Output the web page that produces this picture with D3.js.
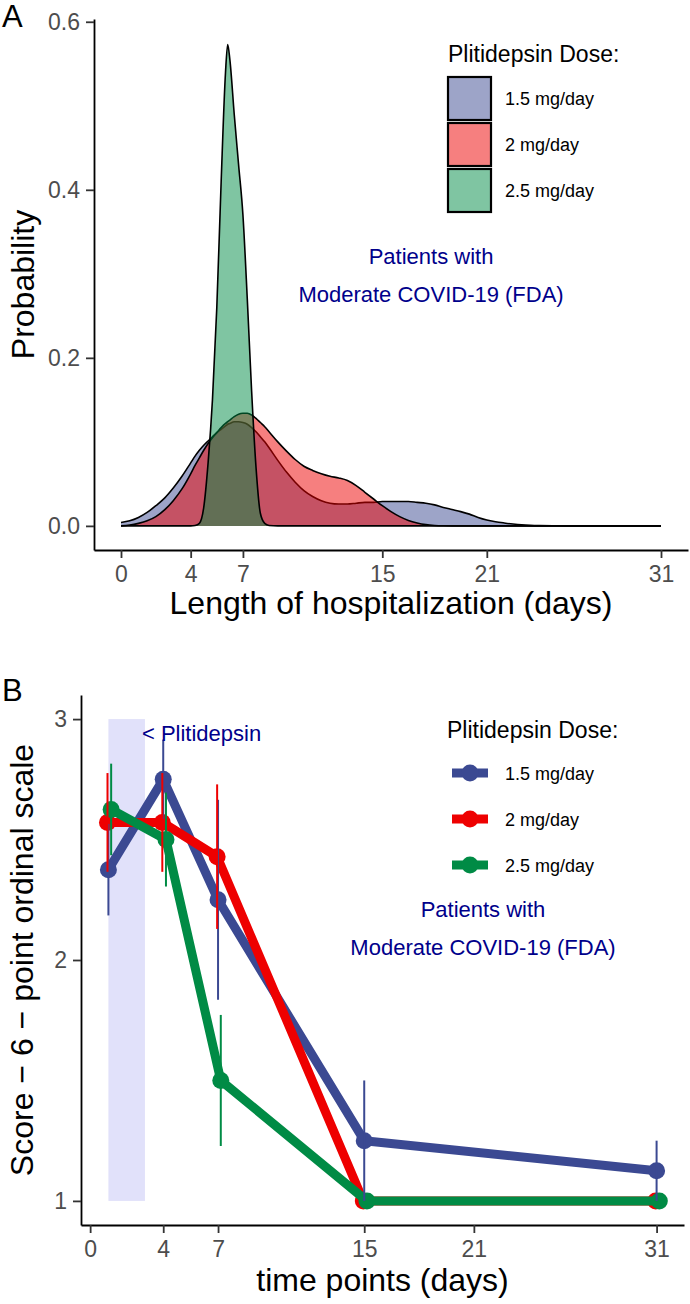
<!DOCTYPE html>
<html><head><meta charset="utf-8">
<script src="https://cdn.jsdelivr.net/npm/d3@7"></script>
<style>
body{margin:0;background:#fff}
svg{display:block}
text{font-family:"Liberation Sans",Arial,Helvetica,sans-serif}
</style>
</head><body>
<svg id="chart" width="690" height="1304"></svg>
<script>
// ---------- shared ----------
const doses = ["1.5 mg/day", "2 mg/day", "2.5 mg/day"];
const colors = ["#3B4992", "#EE0000", "#008B45"];
const xTickValues = [0, 4, 7, 15, 21, 31];
const yTicksA = [0, 0.2, 0.4, 0.6];
const yTicksB = [1, 2, 3];

// ---------- panel A: density of length of hospitalization ----------
const densX = [0,0.5,1,1.5,2,2.5,3,3.5,4,4.25,4.5,4.75,5,5.25,5.5,5.75,6,6.125,6.25,6.5,6.75,7,7.25,7.5,7.75,8,8.25,8.5,9,9.5,10,10.5,11,11.5,12,12.5,13,13.5,14,14.5,15,15.5,16,16.5,17,17.5,18,18.5,19,19.5,20,20.5,21,21.5,22,22.5,23,23.5,24,25,26,31];
const dens15 = [0.004,0.006,0.010,0.016,0.024,0.033,0.045,0.059,0.075,0.083,0.090,0.096,0.101,0.106,0.111,0.115,0.119,0.121,0.122,0.124,0.124,0.123,0.121,0.117,0.112,0.106,0.100,0.093,0.078,0.064,0.052,0.042,0.035,0.030,0.027,0.026,0.026,0.027,0.028,0.028,0.029,0.029,0.029,0.029,0.028,0.027,0.025,0.022,0.0195,0.017,0.014,0.010,0.007,0.005,0.0035,0.0022,0.0012,0.0006,0.0003,0.0001,0,0];
const dens20 = [0,0.001,0.003,0.006,0.011,0.019,0.030,0.044,0.062,0.072,0.081,0.090,0.098,0.105,0.111,0.117,0.122,0.124,0.126,0.130,0.133,0.134,0.134,0.132,0.128,0.123,0.118,0.112,0.100,0.089,0.079,0.071,0.066,0.062,0.059,0.057,0.054,0.048,0.040,0.032,0.024,0.017,0.011,0.0065,0.0035,0.0015,0.0005,0.0001,0,0,0,0,0,0,0,0,0,0,0,0,0,0];
const dens25 = [0,0,0,0,0,0,0,0,0,0.0005,0.003,0.022,0.075,0.150,0.260,0.410,0.540,0.573,0.555,0.490,0.430,0.370,0.270,0.160,0.070,0.015,0.003,0.0005,0,0,0,0,0,0,0,0,0,0,0,0,0,0,0,0,0,0,0,0,0,0,0,0,0,0,0,0,0,0,0,0,0,0];

// ---------- panel B: mean score over time ----------
const days = [1, 4, 7, 15, 31];
const score15 = [2.375, 2.75, 2.25, 1.25, 1.125];
const score20 = [2.571, 2.571, 2.429, 1, 1];
const score25 = [2.625, 2.5, 1.5, 1, 1];
const err15 = [0.19, 0.165, 0.415, 0.25, 0.125];
const err20 = [0.205, 0.205, 0.30, 0, 0];
const err25 = [0.19, 0.195, 0.272, 0, 0];
const dodge = [0, -0.05, 0.15];
const treatWindow = [1, 3]; // shaded plitidepsin administration period (days)

const svg = d3.select("#chart");
const FONT_TICK = 23, FONT_TITLE = 32;

function styleAxis(g) {
  g.select(".domain").attr("stroke", "#000").attr("stroke-width", 1.8);
  g.selectAll(".tick line").attr("stroke", "#333").attr("stroke-width", 1.8);
  g.selectAll(".tick text").attr("fill", "#4D4D4D").attr("font-size", FONT_TICK)
    .attr("font-family", "'Liberation Sans', Arial, sans-serif");
}

// =============== PANEL A ===============
const xA = d3.scaleLinear().domain([-1.55, 32.55]).range([94, 688]);
const yA = d3.scaleLinear().domain([-0.0287, 0.6033]).range([550, 19]);

const seriesA = [dens15, dens20, dens25].map((arr, i) => ({
  dose: doses[i], color: colors[i],
  pts: densX.map((x, j) => ({x, y: arr[j]}))
}));

const gA = svg.append("g");
const areaA = d3.area().x(d => xA(d.x)).y0(yA(0)).y1(d => yA(d.y)).curve(d3.curveMonotoneX);
const lineA = d3.line().x(d => xA(d.x)).y(d => yA(d.y)).curve(d3.curveMonotoneX);
seriesA.forEach(s => {
  gA.append("path").attr("d", areaA(s.pts)).attr("fill", s.color).attr("fill-opacity", 0.5);
  gA.append("path").attr("d", lineA(s.pts)).attr("fill", "none").attr("stroke", "#000").attr("stroke-width", 1.6);
});

gA.append("g").attr("transform", `translate(0,${yA.range()[0]})`)
  .call(d3.axisBottom(xA).tickValues(xTickValues).tickSize(8).tickSizeOuter(0).tickPadding(8).tickFormat(d3.format("d")))
  .call(styleAxis);
gA.append("g").attr("transform", `translate(${xA.range()[0]},0)`)
  .call(d3.axisLeft(yA).tickValues(yTicksA).tickSize(8).tickSizeOuter(0).tickPadding(6).tickFormat(d3.format(".1f")))
  .call(styleAxis);

gA.append("text").attr("x", (xA.range()[0] + xA.range()[1]) / 2).attr("y", 614)
  .attr("text-anchor", "middle").attr("font-size", FONT_TITLE).text("Length of hospitalization (days)");
gA.append("text").attr("transform", `translate(34,${(yA.range()[0] + yA.range()[1]) / 2}) rotate(-90)`)
  .attr("text-anchor", "middle").attr("font-size", FONT_TITLE).text("Probability");
gA.append("text").attr("x", 2).attr("y", 27).attr("font-size", 31).text("A");

// annotation
const annA = gA.append("text").attr("text-anchor", "middle").attr("font-size", 22).attr("fill", "#00008B");
annA.append("tspan").attr("x", xA(17.8)).attr("y", yA(0.312)).text("Patients with");
annA.append("tspan").attr("x", xA(17.8)).attr("y", yA(0.267)).text("Moderate COVID-19 (FDA)");

// legend A
const legA = gA.append("g");
legA.append("text").attr("x", 448).attr("y", 62).attr("font-size", 23).text("Plitidepsin Dose:");
doses.forEach((d, i) => {
  const top = 77 + i * 46;
  legA.append("rect").attr("x", 448).attr("y", top).attr("width", 43).attr("height", 43)
    .attr("fill", colors[i]).attr("fill-opacity", 0.5).attr("stroke", "#000").attr("stroke-width", 2.2);
  legA.append("text").attr("x", 505).attr("y", top + 21.5 + 6.5).attr("font-size", 18).text(d);
});

// =============== PANEL B ===============
const xB = d3.scaleLinear().domain([-0.5, 32.5]).range([81, 684]);
const yB = d3.scaleLinear().domain([0.9, 3.1]).range([1225, 695]);
const gB = svg.append("g");

gB.append("rect").attr("x", xB(treatWindow[0])).attr("y", yB(3))
  .attr("width", xB(treatWindow[1]) - xB(treatWindow[0])).attr("height", yB(1) - yB(3))
  .attr("fill", "#E1E1FA");

const seriesB = [[score15, err15], [score20, err20], [score25, err25]].map(([sc, er], i) => ({
  dose: doses[i], color: colors[i],
  pts: days.map((d, j) => ({x: d + dodge[i], y: sc[j], e: er[j]}))
}));

const lineB = d3.line().x(d => xB(d.x)).y(d => yB(d.y));
seriesB.forEach(s => {
  gB.append("path").attr("d", lineB(s.pts)).attr("fill", "none").attr("stroke", s.color)
    .attr("stroke-width", 9).attr("stroke-linejoin", "round");
  gB.selectAll(null).data(s.pts).enter().append("circle")
    .attr("cx", d => xB(d.x)).attr("cy", d => yB(d.y)).attr("r", 8.5).attr("fill", s.color);
});
seriesB.forEach(s => {
  gB.selectAll(null).data(s.pts.filter(d => d.e > 0)).enter().append("line")
    .attr("x1", d => xB(d.x)).attr("x2", d => xB(d.x))
    .attr("y1", d => yB(d.y - d.e)).attr("y2", d => yB(d.y + d.e))
    .attr("stroke", s.color).attr("stroke-width", 2);
});

gB.append("g").attr("transform", `translate(0,${yB.range()[0]})`)
  .call(d3.axisBottom(xB).tickValues(xTickValues).tickSize(8).tickSizeOuter(0).tickPadding(8).tickFormat(d3.format("d")))
  .call(styleAxis);
gB.append("g").attr("transform", `translate(${xB.range()[0]},0)`)
  .call(d3.axisLeft(yB).tickValues(yTicksB).tickSize(8).tickSizeOuter(0).tickPadding(6).tickFormat(d3.format("d")))
  .call(styleAxis);

gB.append("text").attr("x", (xB.range()[0] + xB.range()[1]) / 2).attr("y", 1291)
  .attr("text-anchor", "middle").attr("font-size", FONT_TITLE).text("time points (days)");
gB.append("text").attr("transform", `translate(33,${(yB.range()[0] + yB.range()[1]) / 2}) rotate(-90)`)
  .attr("text-anchor", "middle").attr("font-size", FONT_TITLE).text("Score \u2212 6 \u2212 point ordinal scale");
gB.append("text").attr("x", 2).attr("y", 701).attr("font-size", 31).text("B");

gB.append("text").attr("x", xB(treatWindow[1]) - 3).attr("y", 741).attr("font-size", 22)
  .attr("fill", "#00008B").text("< Plitidepsin");
const annB = gB.append("text").attr("text-anchor", "middle").attr("font-size", 22).attr("fill", "#00008B");
annB.append("tspan").attr("x", xB(21.5)).attr("y", yB(2.18)).text("Patients with");
annB.append("tspan").attr("x", xB(21.5)).attr("y", yB(2.02)).text("Moderate COVID-19 (FDA)");

// legend B
const legB = gB.append("g");
legB.append("text").attr("x", 447).attr("y", 738).attr("font-size", 23).text("Plitidepsin Dose:");
doses.forEach((d, i) => {
  const cy = 773 + i * 46;
  legB.append("line").attr("x1", 452).attr("x2", 488).attr("y1", cy).attr("y2", cy)
    .attr("stroke", colors[i]).attr("stroke-width", 9);
  legB.append("circle").attr("cx", 470).attr("cy", cy).attr("r", 8.5).attr("fill", colors[i]);
  legB.append("text").attr("x", 505).attr("y", cy + 6.5).attr("font-size", 18).text(d);
});
</script>
</body></html>
